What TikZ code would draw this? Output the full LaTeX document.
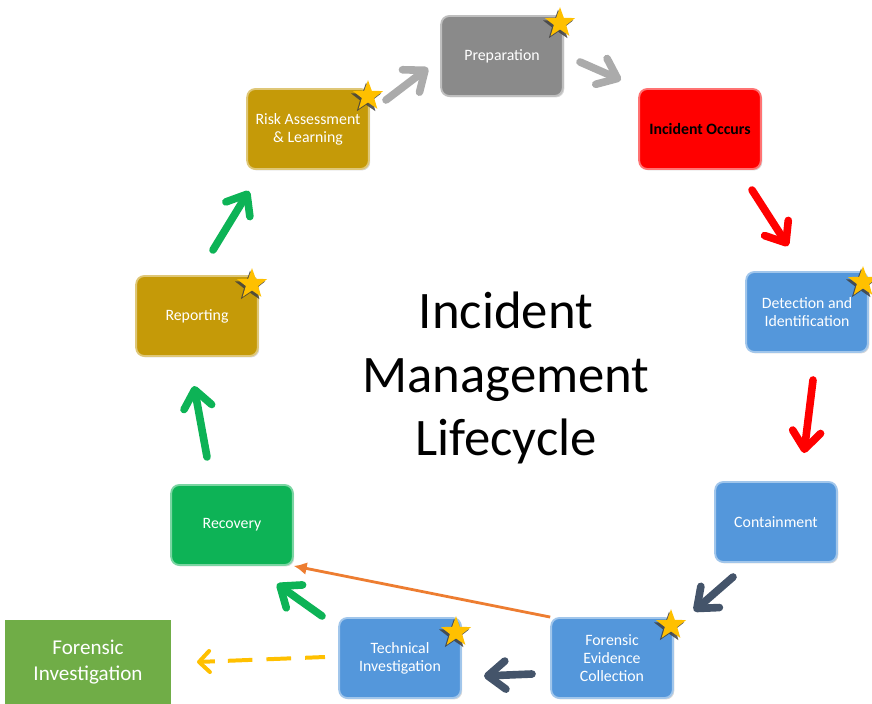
\documentclass[tikz,border=0pt]{standalone}
\usepackage{fontspec}
\setmainfont{Carlito}
\usetikzlibrary{arrows.meta,shapes.geometric,shadows,calc}

\definecolor{prepgray}{HTML}{8A8A8A}
\definecolor{occred}{HTML}{FF0000}
\definecolor{detblue}{HTML}{5497DB}
\definecolor{recgreen}{HTML}{0DB356}
\definecolor{repgold}{HTML}{C59A08}
\definecolor{forgreen}{HTML}{70AD47}
\definecolor{starfill}{HTML}{FFC000}
\definecolor{arrgray}{HTML}{ABABAB}
\definecolor{arrslate}{HTML}{44546A}
\definecolor{arrorange}{HTML}{ED7D31}

\begin{document}
\begin{tikzpicture}[x=0.03cm, y=-0.03cm,
  phase/.style={draw=#1!55!white, line width=1.6pt, fill=#1, rounded corners=7pt,
    minimum width=3.65cm, minimum height=2.4cm, align=center, text=white,
    font=\fontsize{13.5}{15.5}\selectfont,
    drop shadow={opacity=0.3, shadow xshift=1.2pt, shadow yshift=-1.2pt}},
  badge/.style={star, star points=5, star point ratio=2.45, fill=starfill, inner sep=0pt,
    minimum size=0.95cm,
    drop shadow={fill=black!75, opacity=0.85, shadow xshift=-1.6pt, shadow yshift=-2pt}},
  flow/.style={#1, line width=6.5pt, line cap=round,
    -{Straight Barb[length=15pt, width=24pt, round]}}
]
\useasboundingbox (0,0) rectangle (872,704);

% the nine phases round the circle
\node[phase=prepgray] (prep) at (502,56) {Preparation};
\node[phase=occred, text=black, font=\fontsize{13.5}{15.5}\selectfont\bfseries] (occurs) at (700,129) {Incident Occurs};
\node[phase=detblue] (detect) at (807,312) {Detection and\\Identification};
\node[phase=detblue] (contain) at (776,522) {Containment};
\node[phase=detblue] (evidence) at (612,658) {Forensic\\Evidence\\Collection};
\node[phase=detblue] (techinv) at (400,658) {Technical\\Investigation};
\node[phase=recgreen] (recovery) at (232,525) {Recovery};
\node[phase=repgold] (report) at (197,316) {Reporting};
\node[phase=repgold] (risk) at (308,129) {Risk Assessment\\\& Learning};

% side box, outside the cycle
\node[fill=forgreen, minimum width=5.0cm, minimum height=2.5cm, align=center, text=white,
  font=\fontsize{18}{22}\selectfont] (forinv) at (88,662) {Forensic\\Investigation};

% title in the middle
\node[align=center, font=\fontsize{45}{54.5}\selectfont] (title) at (506,378) {Incident\\Management\\Lifecycle};

% stars on the key phases
\node[badge] (s1) at (560,23) {};
\node[badge] (s2) at (368,96) {};
\node[badge] (s3) at (863,282) {};
\node[badge] (s4) at (252,284) {};
\node[badge] (s5) at (671,625) {};
\node[badge] (s6) at (456,632) {};

% arrow ends
\coordinate (a1) at (386,100); \coordinate (b1) at (428,68);
\coordinate (a2) at (580,62);  \coordinate (b2) at (621,80);
\coordinate (a3) at (752,190); \coordinate (b3) at (788,246);
\coordinate (a4) at (813,380); \coordinate (b4) at (804,453);
\coordinate (a5) at (733,577); \coordinate (b5) at (694,611);
\coordinate (a6) at (532,674); \coordinate (b6) at (484,676);
\coordinate (a7) at (322,616); \coordinate (b7) at (277,584);
\coordinate (a8) at (207,457); \coordinate (b8) at (194,386);
\coordinate (a9) at (213,250); \coordinate (b9) at (249,191);

\draw[flow=arrgray] (a1) -- (b1);
\draw[flow=arrgray] (a2) -- (b2);
\draw[flow=occred] (a3) -- (b3);
\draw[flow=occred] (a4) -- (b4);
\draw[flow=arrslate] (a5) -- (b5);
\draw[flow=arrslate] (a6) -- (b6);
\draw[flow=recgreen] (a7) -- (b7);
\draw[flow=recgreen] (a8) -- (b8);
\draw[flow=recgreen] (a9) -- (b9);

% shortcut back to recovery
\draw[arrorange, line width=2.4pt, -{Latex[length=11pt, width=11pt]}] (evidence.north west) -- (recovery.south east);

% handover to forensic investigation
\coordinate (y1) at (325,657);
\coordinate (y2) at (197,662);
\draw[starfill, line width=3.4pt, dash pattern=on 21pt off 12pt, dash phase=4pt]
  (y1) -- ($(y1)!0.86!(y2)$);
\draw[starfill, line width=3.4pt, -{Straight Barb[length=9pt, width=18pt, round]}]
  ($(y1)!0.86!(y2)$) -- (y2);
\end{tikzpicture}
\end{document}
